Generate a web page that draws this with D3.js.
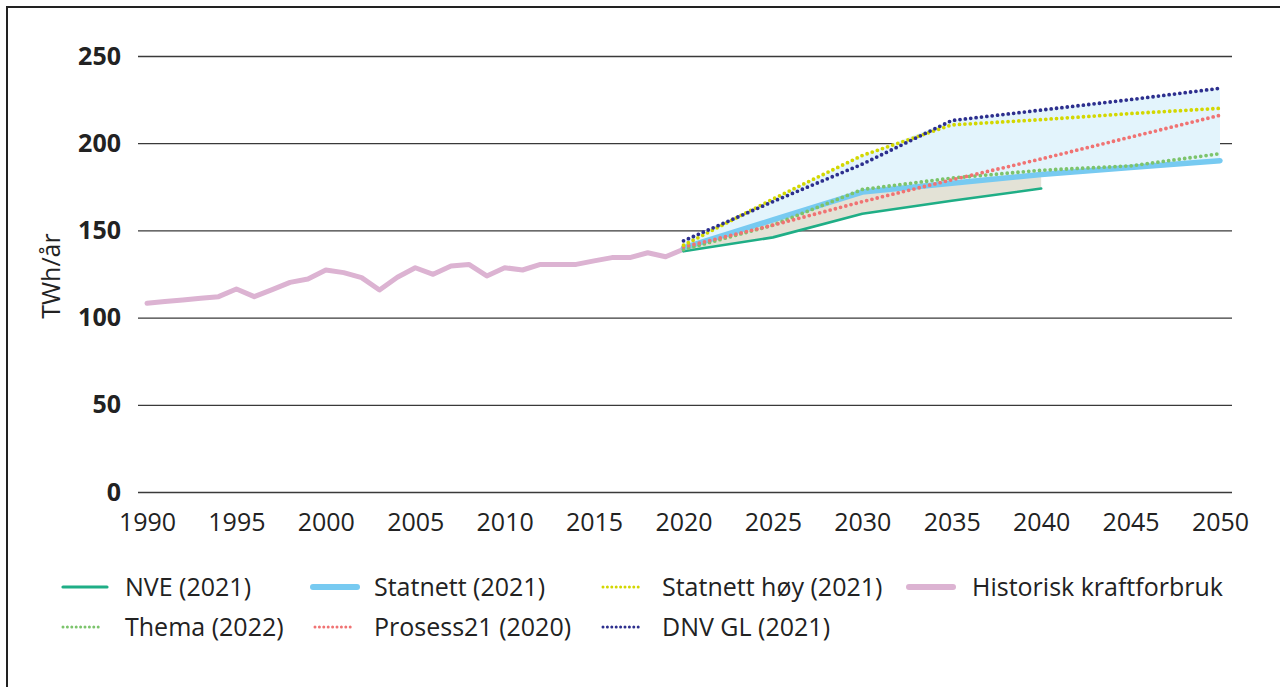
<!DOCTYPE html>
<html><head><meta charset="utf-8">
<script src="https://cdn.jsdelivr.net/npm/d3@7"></script>
<style>
body{margin:0;background:#fff}
svg{display:block}
text{font-family:"Open Sans","Noto Sans",sans-serif;fill:#222}
</style>
</head><body>
<svg id="chart" width="1280" height="687"></svg>
<script>
// ---- data ----
const histYears = [1990,1991,1992,1993,1994,1995,1996,1997,1998,1999,2000,2001,2002,2003,2004,2005,2006,2007,2008,2009,2010,2011,2012,2013,2014,2015,2016,2017,2018,2019,2020];
const histValues = [108.2,109.2,110.1,111.1,112.0,116.4,112.0,116.0,120.2,122.1,127.3,125.8,122.9,115.8,123.1,128.6,124.8,129.6,130.5,123.9,128.6,127.3,130.5,130.5,130.5,132.5,134.4,134.4,137.2,134.9,139.2];
const forecastYears = [2020,2025,2030,2035,2040,2045,2050];
const nveValues        = [138.0,146.0,159.5,167.0,174.0,null,null];
const statnettValues   = [140.0,156.0,172.0,177.0,182.0,186.0,190.0];
const statnettHoyValues= [141.5,168.0,193.0,210.5,213.5,217.0,220.0];
const themaValues      = [139.0,153.0,173.5,180.0,184.5,187.0,194.0];
const prosessValues    = [140.5,153.0,166.5,179.0,191.0,203.5,216.0];
const dnvValues        = [144.0,166.5,188.0,213.0,219.0,225.0,231.5];
const yTicks = [0,50,100,150,200,250];
const xTicks = [1990,1995,2000,2005,2010,2015,2020,2025,2030,2035,2040,2045,2050];
const seriesNames = ["NVE (2021)","Statnett (2021)","Statnett høy (2021)","Historisk kraftforbruk","Thema (2022)","Prosess21 (2020)","DNV GL (2021)"];

// ---- styles ----
const colors = {nve:"#1fae86", statnett:"#77caf1", hoy:"#d3d700", hist:"#dcb3d2", thema:"#7cc46c", prosess:"#f07373", dnv:"#2d2f8e"};
const FONT = '"Open Sans","Noto Sans",sans-serif';

const svg = d3.select("#chart");
// frame
svg.append("rect").attr("x",7).attr("y",7).attr("width",1290).attr("height",700)
  .attr("fill","none").attr("stroke","#222").attr("stroke-width",2);

const x = d3.scaleLinear().domain([1990,2050]).range([147,1220]);
const y = d3.scaleLinear().domain([0,250]).range([492,56]);
const gridLeft = 138, gridRight = 1232;

// y axis + grid
const yAxis = svg.append("g").attr("transform",`translate(${gridLeft},0)`)
  .call(d3.axisLeft(y).tickValues(yTicks).tickSize(-(gridRight-gridLeft)).tickPadding(17));
yAxis.select(".domain").remove();
yAxis.selectAll("line").attr("stroke","#3a3a3a").attr("stroke-width",1.3);
yAxis.selectAll("text").attr("font-size",25).attr("font-weight","bold").style("font-family",FONT).attr("fill","#222");

// x axis labels
const xAxis = svg.append("g").attr("transform",`translate(0,${y(0)})`)
  .call(d3.axisBottom(x).tickValues(xTicks).tickFormat(d3.format("d")).tickSize(0).tickPadding(21));
xAxis.select(".domain").remove();
xAxis.selectAll("text").attr("font-size",25).style("font-family",FONT).attr("fill","#222");

// y label
svg.append("text").attr("transform","translate(60,276) rotate(-90)")
  .attr("text-anchor","middle").attr("font-size",25).text("TWh/år");

// ---- fills ----
const fc = forecastYears.map((yr,i)=>({yr,
  top: Math.max(dnvValues[i], statnettHoyValues[i]),
  mid: statnettValues[i], low: nveValues[i]}));
svg.append("path").datum(fc)
  .attr("d", d3.area().x(d=>x(d.yr)).y0(d=>y(d.mid)).y1(d=>y(d.top)))
  .attr("fill","#e3f4fc");
svg.append("path").datum(fc.filter(d=>d.low!=null))
  .attr("d", d3.area().x(d=>x(d.yr)).y0(d=>y(d.low)).y1(d=>y(d.mid)))
  .attr("fill","#e3e2d6");

// ---- lines ----
const line = d3.line().defined(d=>d.v!=null).x(d=>x(d.yr)).y(d=>y(d.v));
function fs(vals){ return forecastYears.map((yr,i)=>({yr, v: vals[i]})); }

function drawSolid(data,color,w){
  svg.append("path").datum(data).attr("d",line).attr("fill","none")
    .attr("stroke",color).attr("stroke-width",w).attr("stroke-linecap","round").attr("stroke-linejoin","round");
}
function drawDotted(data,color){
  svg.append("path").datum(data).attr("d",line).attr("fill","none")
    .attr("stroke",color).attr("stroke-width",3.8).attr("stroke-linecap","round")
    .attr("stroke-dasharray","0,5.4");
}

drawSolid(histYears.map((yr,i)=>({yr, v: histValues[i]})), colors.hist, 5);
drawSolid(fs(nveValues), colors.nve, 2.6);
drawSolid(fs(statnettValues), colors.statnett, 5.5);
drawDotted(fs(themaValues), colors.thema);
drawDotted(fs(prosessValues), colors.prosess);
drawDotted(fs(statnettHoyValues), colors.hoy);
drawDotted(fs(dnvValues), colors.dnv);

// ---- legend ----
const legendItems = [
  {name: seriesNames[0], color: colors.nve, type:"solid", w:3.2, sx:63, tx:125, row:0},
  {name: seriesNames[1], color: colors.statnett, type:"solid", w:6, sx:313, tx:374, row:0},
  {name: seriesNames[2], color: colors.hoy, type:"dot", sx:603, tx:662, row:0},
  {name: seriesNames[3], color: colors.hist, type:"solid", w:6, sx:909, tx:972, row:0},
  {name: seriesNames[4], color: colors.thema, type:"dot", sx:63, tx:125, row:1},
  {name: seriesNames[5], color: colors.prosess, type:"dot", sx:315, tx:374, row:1},
  {name: seriesNames[6], color: colors.dnv, type:"dot", sx:603, tx:662, row:1}
];
const rowY = [587, 627];
const lg = svg.append("g");
legendItems.forEach(it=>{
  const yy = rowY[it.row];
  const ln = lg.append("line").attr("x1",it.sx).attr("x2",it.type==="solid"? it.sx+44 : it.sx+39)
    .attr("y1",yy).attr("y2",yy).attr("stroke",it.color).attr("stroke-linecap","round");
  if(it.type==="solid") ln.attr("stroke-width",it.w);
  else ln.attr("stroke-width",3).attr("stroke-dasharray","0,4.4");
  lg.append("text").attr("x",it.tx).attr("y",yy+9).attr("font-size",25).text(it.name);
});
</script>
</body></html>
